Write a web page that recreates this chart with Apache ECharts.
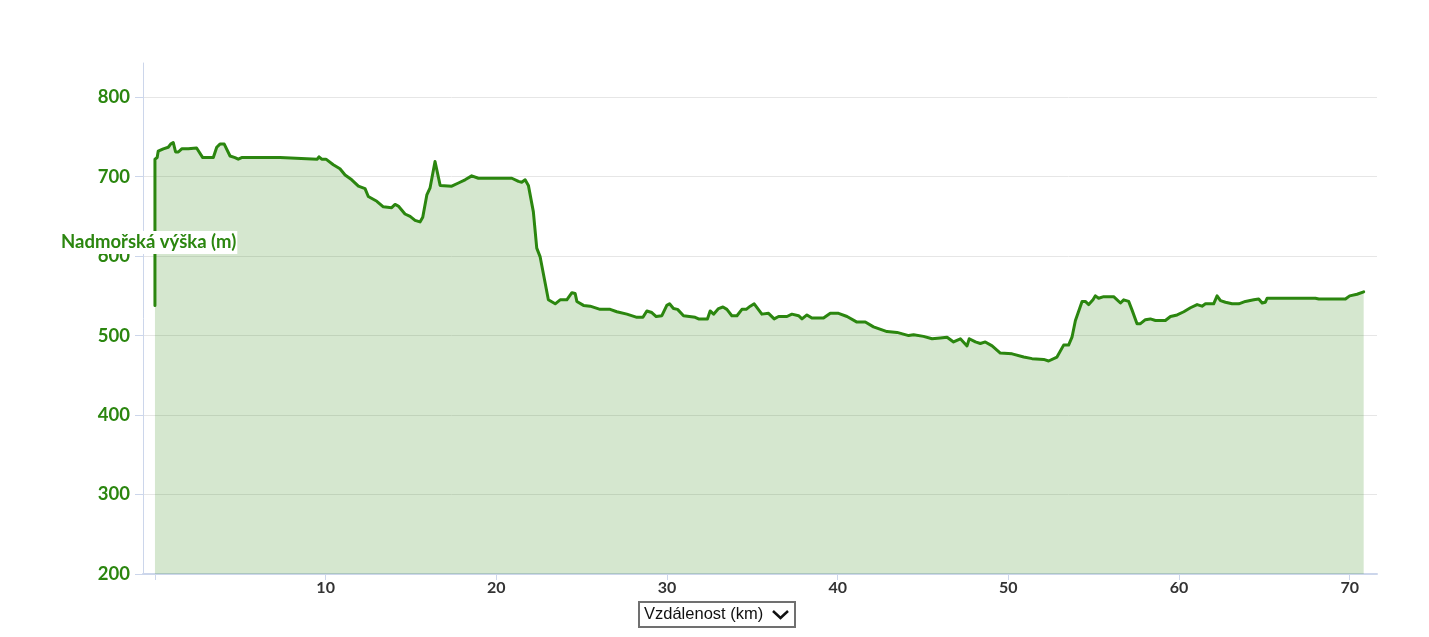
<!DOCTYPE html>
<html>
<head>
<meta charset="utf-8">
<title>Výškový profil</title>
<script src="https://cdn.jsdelivr.net/npm/echarts@6/dist/echarts.min.js"></script>
<style>
  html, body { margin: 0; padding: 0; background: #ffffff; }
  #chart { width: 1429px; height: 637px; }
</style>
</head>
<body>
<div id="chart"></div>
<script>
// vzdálenost (km) a nadmořská výška (m)
var distKm = [0, 0, 0.13, 0.19, 0.49, 0.78, 0.92, 1.07, 1.21, 1.37, 1.57, 1.95, 2.05, 2.44, 2.80, 3.42, 3.62, 3.81, 4.06, 4.40,
  4.69, 4.88, 5.08, 7.33, 7.43, 9.51, 9.61, 9.77, 10.02, 10.45, 10.84, 11.14, 11.53, 11.92, 12.31, 12.50, 13.0, 13.38, 13.87, 14.07,
  14.26, 14.65, 14.95, 15.24, 15.53, 15.69, 15.93, 16.12, 16.41, 16.71, 17.39, 17.78, 18.17, 18.56, 18.95, 20.91, 21.30, 21.49, 21.69, 21.88,
  22.17, 22.37, 22.57, 23.05, 23.45, 23.74, 24.13, 24.43, 24.62, 24.72, 25.11, 25.50, 26.08, 26.67, 27.06, 27.65, 28.24, 28.59, 28.82, 29.11,
  29.37, 29.70, 29.99, 30.15, 30.38, 30.62, 30.97, 31.65, 31.85, 32.37, 32.53, 32.73, 33.02, 33.28, 33.51, 33.80, 34.10, 34.39, 34.64, 34.88,
  35.11, 35.56, 35.95, 36.28, 36.54, 37.03, 37.32, 37.71, 37.91, 38.20, 38.49, 39.17, 39.57, 40.05, 40.55, 41.13, 41.62, 42.10, 42.89, 43.48,
  44.16, 44.45, 45.03, 45.53, 46.01, 46.41, 46.79, 47.19, 47.58, 47.71, 48.07, 48.36, 48.65, 49.05, 49.53, 50.22, 50.90, 51.39, 52.07, 52.36,
  52.85, 53.24, 53.53, 53.73, 53.93, 54.32, 54.51, 54.71, 54.96, 55.10, 55.29, 55.59, 56.17, 56.57, 56.76, 57.05, 57.25, 57.54, 57.74, 58.03,
  58.32, 58.62, 59.20, 59.50, 59.89, 60.28, 60.67, 61.06, 61.35, 61.55, 62.03, 62.23, 62.43, 62.72, 63.11, 63.50, 63.89, 64.38, 64.67, 64.87,
  65.06, 65.16, 67.99, 68.19, 69.75, 70.00, 70.43, 70.82];
var elevation = [538, 722, 724, 732, 735, 737, 741, 743, 731, 731, 735, 735, 737, 736, 724, 724, 737, 741, 741, 726,
  724, 722, 724, 724, 722, 722, 725, 722, 722, 715, 710, 702, 696, 688, 685, 675, 669, 662, 661, 665,
  663, 653, 650, 645, 643, 649, 677, 686, 719, 689, 688, 692, 696, 701, 698, 698, 694, 693, 696, 689,
  656, 610, 599, 545, 540, 545, 545, 554, 553, 543, 538, 537, 533, 533, 530, 527, 523, 523, 531, 529,
  524, 525, 538, 540, 534, 533, 525, 523, 521, 521, 531, 527, 534, 536, 533, 525, 525, 533, 533, 537,
  540, 527, 528, 521, 524, 524, 527, 525, 521, 526, 522, 522, 528, 528, 524, 517, 517, 511, 505, 504,
  500, 501, 499, 496, 497, 498, 492, 496, 487, 496, 492, 490, 492, 487, 478, 477, 473, 471, 470, 468,
  473, 488, 488, 498, 519, 543, 543, 539, 545, 550, 547, 549, 549, 541, 545, 543, 532, 515, 515, 520,
  521, 519, 519, 524, 526, 530, 535, 539, 537, 540, 540, 550, 544, 542, 540, 540, 543, 545, 546, 541,
  542, 547, 547, 546, 546, 550, 552, 555];
var xTicks = [0, 10, 20, 30, 40, 50, 60, 70];
var xLabels = [10, 20, 30, 40, 50, 60, 70];
var yTicks = [200, 300, 400, 500, 600, 700, 800];

var profile = distKm.map(function (d, i) { return [d, elevation[i]]; });

var chart = echarts.init(document.getElementById('chart'));
var green = '#2b860f';
var axisColor = '#ccd6eb';

var option = {
  backgroundColor: '#ffffff',
  animation: false,
  grid: { left: 143, right: 52, top: 63, bottom: 63, containLabel: false },
  xAxis: {
    type: 'value',
    min: -0.7,
    max: 71.6,
    axisLine: { show: true, onZero: false, lineStyle: { color: axisColor, width: 2 } },
    axisTick: { show: true, customValues: xTicks, length: 6, lineStyle: { color: axisColor } },
    axisLabel: {
      customValues: xLabels,
      color: '#333333',
      fontFamily: 'Lato',
      fontWeight: 'bold',
      fontSize: 16,
      margin: 6
    },
    splitLine: { show: false }
  },
  yAxis: {
    type: 'value',
    min: 200,
    max: 843,
    axisLine: { show: true, onZero: false, lineStyle: { color: axisColor, width: 1 } },
    axisTick: { show: true, customValues: yTicks, length: 8, lineStyle: { color: axisColor } },
    axisLabel: {
      customValues: yTicks,
      color: green,
      fontFamily: 'Lato',
      fontWeight: 'bold',
      fontSize: 18.5,
      margin: 13
    },
    splitLine: { show: true, lineStyle: { color: '#e6e6e6', width: 1 } }
  },
  series: [{
    type: 'line',
    data: profile,
    showSymbol: false,
    smooth: false,
    lineStyle: { color: green, width: 3, cap: 'round', join: 'round' },
    areaStyle: { color: 'rgba(43,134,15,0.2)', opacity: 1, origin: 'start' },
    z: 2
  }],
  graphic: [
    {
      type: 'text',
      left: 60,
      top: 231,
      z: 10,
      style: {
        text: 'Nadmořská výška (m)',
        fill: green,
        font: 'bold 18.5px Lato',
        backgroundColor: '#ffffff',
        padding: [2, 1, 2, 1]
      }
    },
    {
      type: 'group',
      left: 638,
      top: 601,
      children: [
        {
          type: 'rect',
          shape: { x: 0, y: 0, width: 156, height: 25 },
          style: { fill: '#ffffff', stroke: '#707070', lineWidth: 2 }
        },
        {
          type: 'text',
          x: 5,
          y: 4,
          style: { text: 'Vzdálenost (km)', fill: '#111111', font: '16.5px "Liberation Sans"' }
        },
        {
          type: 'polyline',
          shape: { points: [[134, 9], [141.5, 16], [149, 9]] },
          style: { stroke: '#111111', lineWidth: 2.5, fill: null }
        }
      ]
    }
  ]
};

chart.setOption(option);
</script>
</body>
</html>
